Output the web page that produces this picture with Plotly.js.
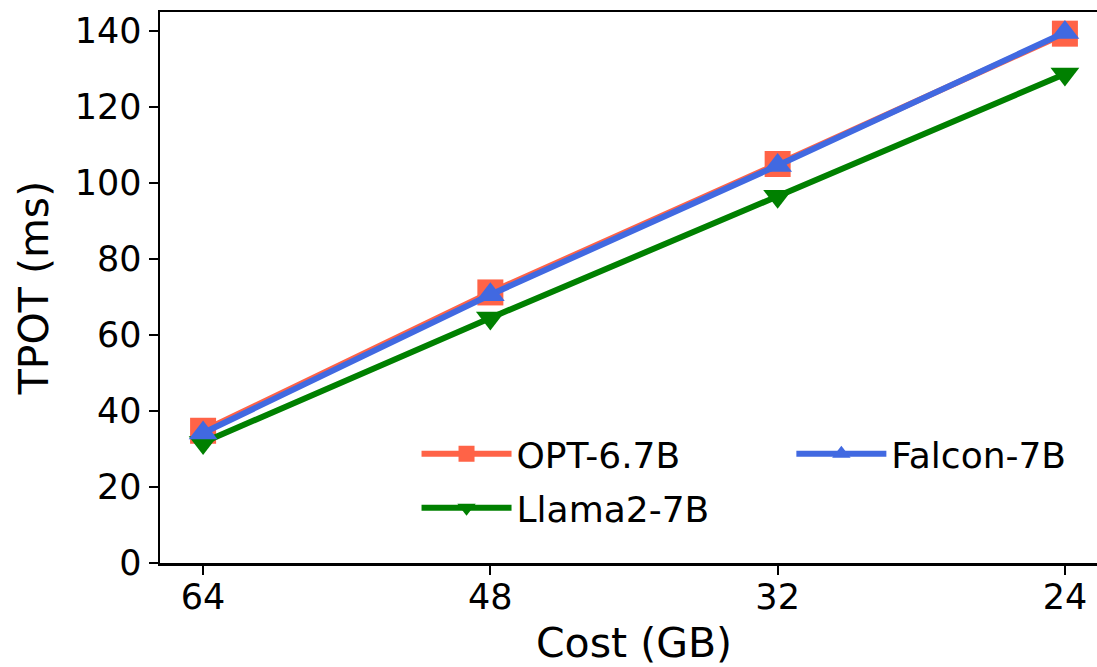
<!DOCTYPE html>
<html>
<head>
<meta charset="utf-8">
<script src="https://cdn.plot.ly/plotly-3.0.1.min.js"></script>
<style>
html,body{margin:0;padding:0;overflow:hidden;background:#fff;}
#chart{width:1112px;height:667px;}
</style>
</head>
<body>
<div id="chart"></div>
<script>
const costLabels = ['64', '48', '32', '24'];
const optValues = [34.8, 71.2, 105.0, 139.3];
const llamaValues = [31.7, 64.5, 96.5, 128.7];
const falconValues = [34.2, 70.6, 104.6, 139.6];
const seriesNames = ['OPT-6.7B', 'Llama2-7B', 'Falcon-7B'];
const yTicks = [0, 20, 40, 60, 80, 100, 120, 140];

const FONT = 'DejaVu Sans, sans-serif';

const traces = [
  {
    x: costLabels, y: optValues, name: seriesNames[0], type: 'scatter', mode: 'lines+markers',
    line: {color: '#FF6347', width: 6},
    marker: {symbol: 'square', size: 26, color: '#FF6347'},
    legend: 'legend'
  },
  {
    x: costLabels, y: llamaValues, name: seriesNames[1], type: 'scatter', mode: 'lines+markers',
    line: {color: '#008000', width: 6},
    marker: {symbol: 'triangle-down', size: 25, color: '#008000'},
    legend: 'legend2'
  },
  {
    x: costLabels, y: falconValues, name: seriesNames[2], type: 'scatter', mode: 'lines+markers',
    line: {color: '#4169E1', width: 6},
    marker: {symbol: 'triangle-up', size: 25, color: '#4169E1'},
    legend: 'legend3'
  }
];

const legendCommon = {
  font: {family: FONT, size: 36, color: '#000'},
  bgcolor: 'rgba(0,0,0,0)',
  borderwidth: 0,
  itemwidth: 90,
  xanchor: 'left',
  yanchor: 'middle'
};

const layout = {
  width: 1112,
  height: 667,
  margin: {l: 160, r: 4, t: 12, b: 104},
  paper_bgcolor: '#fff',
  plot_bgcolor: '#fff',
  font: {family: FONT, size: 35, color: '#000'},
  showlegend: true,
  xaxis: {
    type: 'category',
    range: [-0.15, 3.15],
    showline: true, linecolor: '#000', linewidth: 2.5, mirror: true,
    ticks: 'outside', ticklen: 9, tickwidth: 2, tickcolor: '#000',
    ticklabelstandoff: -8,
    showgrid: false, zeroline: false,
    tickfont: {family: FONT, size: 35, color: '#000'},
    title: {text: 'Cost (GB)', font: {family: FONT, size: 41, color: '#000'}, standoff: 14}
  },
  yaxis: {
    range: [0, 145],
    tickvals: yTicks,
    showline: true, linecolor: '#000', linewidth: 2.5, mirror: true,
    ticks: 'outside', ticklen: 9, tickwidth: 2, tickcolor: '#000',
    showgrid: false, zeroline: false,
    tickfont: {family: FONT, size: 35, color: '#000'},
    title: {text: 'TPOT (ms)', font: {family: FONT, size: 41, color: '#000'}, standoff: 14}
  },
  legend: Object.assign({}, legendCommon, {x: 0.2706, y: 0.198}),
  legend2: Object.assign({}, legendCommon, {x: 0.2706, y: 0.100}),
  legend3: Object.assign({}, legendCommon, {x: 0.666, y: 0.198})
};

Plotly.newPlot('chart', traces, layout, {displayModeBar: false, staticPlot: true});
</script>
</body>
</html>
